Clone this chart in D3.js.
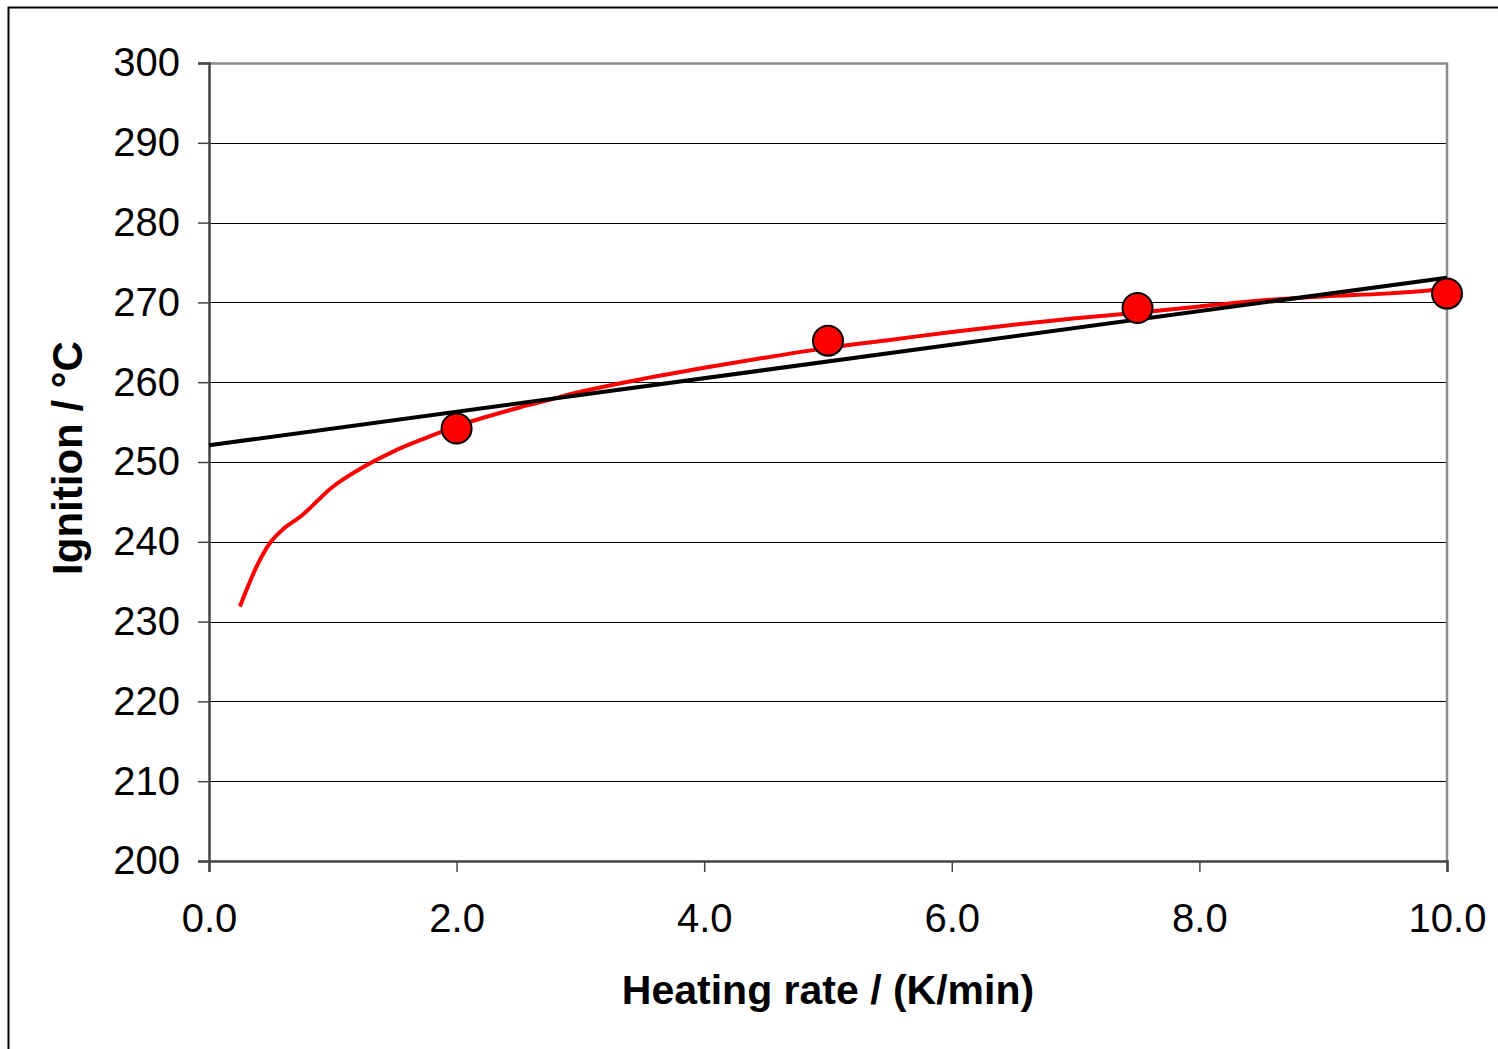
<!DOCTYPE html>
<html>
<head>
<meta charset="utf-8">
<script src="https://cdn.jsdelivr.net/npm/d3@7"></script>
<style>
  body { margin: 0; background: #fff; }
  text { font-family: "Liberation Sans", Arial, sans-serif; }
</style>
</head>
<body>
<script>
// measured points
const rateValues = [2.0, 5.0, 7.5, 10.0];
const ignitionValues = [254.2, 265.2, 269.3, 271.1];

// linear fit drawn as a straight line
const fitX = [0, 10];
const fitY = [252.1, 273.1];

// red curve
const curveX = [0.25, 0.32, 0.4, 0.5, 0.6, 0.75, 0.9, 1.0, 1.25, 1.5, 1.75, 2.0, 2.25, 2.5, 2.75, 3.0,
  3.5, 4.0, 4.5, 5.0, 5.5, 6.0, 6.5, 7.0, 7.5, 8.0, 8.5, 9.0, 9.5, 9.85, 10.0];
const curveY = [231.9, 234.6, 237.4, 240.0, 241.6, 243.3, 245.5, 246.9, 249.4, 251.4, 253.0, 254.5, 255.7, 256.8, 257.8, 258.8,
  260.4, 261.8, 263.1, 264.3, 265.3, 266.3, 267.2, 268.0, 268.7, 269.5, 270.25, 270.75, 271.1, 271.5, 271.8];

const xTicks = [0, 2, 4, 6, 8, 10];
const yTicks = [200, 210, 220, 230, 240, 250, 260, 270, 280, 290, 300];

const W = 1498, H = 1049;
const margin = { top: 63, right: 51, bottom: 188, left: 209 },
    width = W - margin.left - margin.right,
    height = H - margin.top - margin.bottom;

const svg = d3.select("body")
    .append("svg")
    .attr("width", W)
    .attr("height", H);

// outer frame
svg.append("rect")
    .attr("x", 8.5).attr("y", 7.5)
    .attr("width", W).attr("height", H)
    .attr("fill", "none")
    .attr("stroke", "#000")
    .attr("stroke-width", 2);

const g = svg.append("g")
    .attr("transform", "translate(" + margin.left + "," + margin.top + ")");

const x = d3.scaleLinear().domain([0, 10]).range([0, width]);
const y = d3.scaleLinear().domain([200, 300]).range([height, 0]);

// gridlines
g.selectAll(".grid")
    .data(yTicks.slice(1))
    .enter()
    .append("line")
    .attr("x1", 0).attr("x2", width)
    .attr("y1", d => Math.round(y(d)) + 0.5)
    .attr("y2", d => Math.round(y(d)) + 0.5)
    .attr("stroke", "#000")
    .attr("stroke-width", 1);

// plot border top/right (gray)
g.append("path")
    .attr("d", "M0," + (y(300) + 0.5) + "H" + width + "V" + height)
    .attr("fill", "none")
    .attr("stroke", "#8c8c8c")
    .attr("stroke-width", 2.5);

// axes
const xAxis = d3.axisBottom(x).tickValues(xTicks).tickFormat(d3.format(".1f")).tickSizeOuter(0).tickSize(11).tickPadding(32);
const yAxis = d3.axisLeft(y).tickValues(yTicks).tickSizeOuter(0).tickSize(11).tickPadding(18);

const gx = g.append("g")
    .attr("transform", "translate(0," + height + ")")
    .call(xAxis);
const gy = g.append("g").call(yAxis);

[gx, gy].forEach(a => {
  a.select(".domain").attr("stroke", "#444").attr("stroke-width", 2.5);
  a.selectAll(".tick line").attr("stroke", "#444").attr("stroke-width", 1.5);
  a.selectAll("text")
      .attr("font-size", 40)
      .attr("fill", "#000")
      .style("font-family", "'Liberation Sans', Arial, sans-serif");
});
gx.selectAll("text").attr("dy", "0.71em");

// red curve
const curveData = curveX.map((v, i) => [v, curveY[i]]);
g.append("path")
    .datum(curveData)
    .attr("d", d3.line().x(d => x(d[0])).y(d => y(d[1])).curve(d3.curveCatmullRom))
    .attr("fill", "none")
    .attr("stroke", "#ff0000")
    .attr("stroke-width", 4);

// black fit line
g.append("line")
    .attr("x1", x(fitX[0])).attr("y1", y(fitY[0]))
    .attr("x2", x(fitX[1])).attr("y2", y(fitY[1]))
    .attr("stroke", "#000")
    .attr("stroke-width", 4);

// points
g.selectAll(".pt")
    .data(rateValues)
    .enter()
    .append("circle")
    .attr("cx", d => x(d))
    .attr("cy", (d, i) => y(ignitionValues[i]))
    .attr("r", 15)
    .attr("fill", "#ff0000")
    .attr("stroke", "#000")
    .attr("stroke-width", 2);

// axis titles
svg.append("text")
    .attr("x", margin.left + width / 2)
    .attr("y", 1004)
    .attr("text-anchor", "middle")
    .attr("font-size", 41)
    .attr("font-weight", "bold")
    .text("Heating rate / (K/min)");

svg.append("text")
    .attr("transform", "translate(82," + (margin.top + height / 2 - 4) + ") rotate(-90)")
    .attr("text-anchor", "middle")
    .attr("font-size", 42)
    .attr("font-weight", "bold")
    .text("Ignition / °C");
</script>
</body>
</html>
